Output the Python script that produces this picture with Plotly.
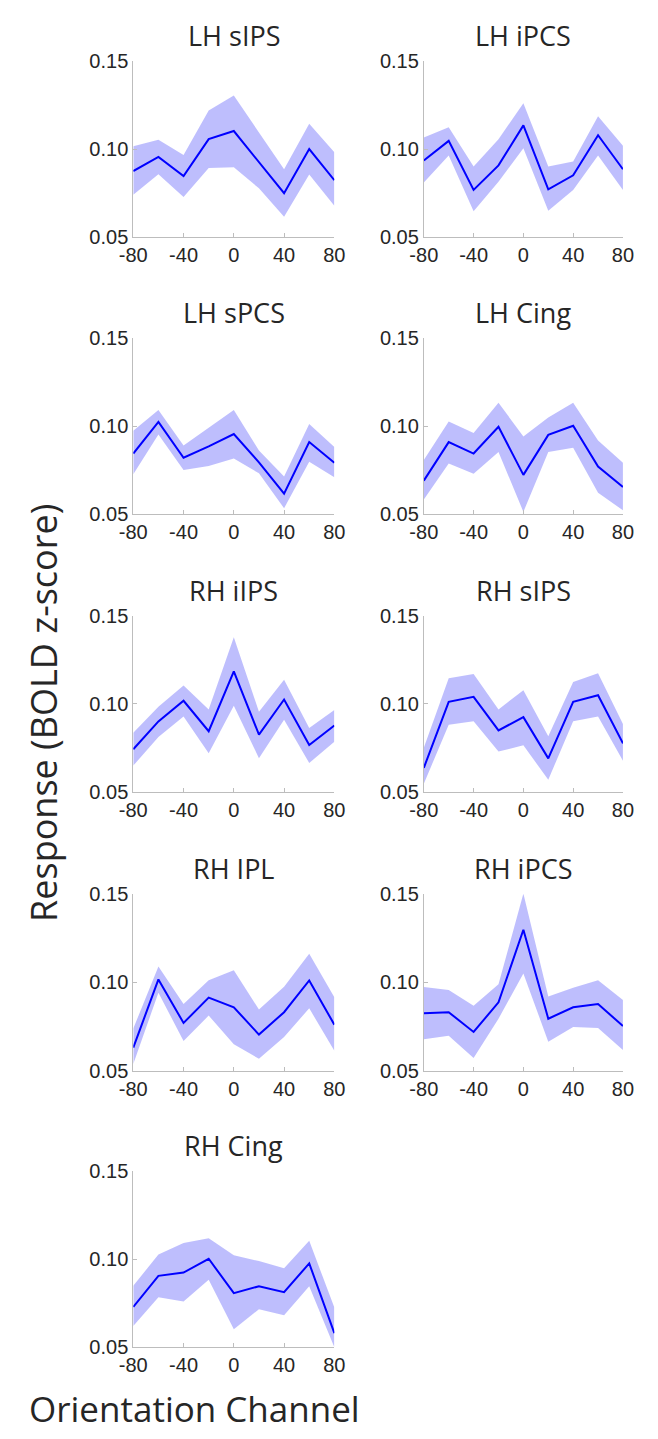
import plotly.graph_objects as go

W, H = 658, 1439

channels = [-80, -60, -40, -20, 0, 20, 40, 60, 80]
regions = ["LH sIPS", "LH iPCS", "LH sPCS", "LH Cing", "RH iIPS",
           "RH sIPS", "RH IPL", "RH iPCS", "RH Cing"]

mean_lh_sips = [0.0877, 0.0957, 0.0848, 0.1058, 0.1104, 0.0927, 0.0751, 0.1002, 0.0825]
upper_lh_sips = [0.1017, 0.1054, 0.0968, 0.1221, 0.1305, 0.1095, 0.0887, 0.1145, 0.0983]
lower_lh_sips = [0.0742, 0.0859, 0.0729, 0.0894, 0.0898, 0.0779, 0.0617, 0.0857, 0.0680]

mean_lh_ipcs = [0.0937, 0.1048, 0.0770, 0.0909, 0.1136, 0.0773, 0.0853, 0.1080, 0.0887]
upper_lh_ipcs = [0.1067, 0.1126, 0.0903, 0.1058, 0.1262, 0.0903, 0.0931, 0.1188, 0.1020]
lower_lh_ipcs = [0.0812, 0.0965, 0.0649, 0.0816, 0.1006, 0.0652, 0.0770, 0.0965, 0.0770]

mean_lh_spcs = [0.0844, 0.1024, 0.0820, 0.0885, 0.0955, 0.0794, 0.0617, 0.0909, 0.0792]
upper_lh_spcs = [0.0974, 0.1091, 0.0890, 0.0993, 0.1091, 0.0862, 0.0714, 0.1011, 0.0881]
lower_lh_spcs = [0.0727, 0.0952, 0.0751, 0.0773, 0.0816, 0.0732, 0.0533, 0.0797, 0.0710]

mean_lh_cing = [0.0690, 0.0909, 0.0844, 0.0996, 0.0723, 0.0950, 0.1002, 0.0770, 0.0654]
upper_lh_cing = [0.0807, 0.1026, 0.0961, 0.1132, 0.0941, 0.1048, 0.1132, 0.0918, 0.0792]
lower_lh_cing = [0.0584, 0.0788, 0.0729, 0.0853, 0.0513, 0.0853, 0.0877, 0.0621, 0.0522]

mean_rh_iips = [0.0742, 0.0900, 0.1017, 0.0844, 0.1184, 0.0825, 0.1024, 0.0766, 0.0877]
upper_rh_iips = [0.0835, 0.0983, 0.1104, 0.0968, 0.1377, 0.0955, 0.1136, 0.0862, 0.0965]
lower_rh_iips = [0.0649, 0.0812, 0.0928, 0.0719, 0.0989, 0.0691, 0.0909, 0.0664, 0.0784]

mean_rh_sips = [0.0636, 0.1011, 0.1039, 0.0849, 0.0924, 0.0690, 0.1011, 0.1048, 0.0775]
upper_rh_sips = [0.0751, 0.1145, 0.1169, 0.0968, 0.1076, 0.0816, 0.1123, 0.1173, 0.0885]
lower_rh_sips = [0.0546, 0.0881, 0.0900, 0.0729, 0.0764, 0.0569, 0.0900, 0.0928, 0.0677]

mean_rh_ipl = [0.0630, 0.1017, 0.0770, 0.0914, 0.0859, 0.0704, 0.0831, 0.1011, 0.0760]
upper_rh_ipl = [0.0738, 0.1091, 0.0877, 0.1013, 0.1069, 0.0846, 0.0976, 0.1162, 0.0916]
lower_rh_ipl = [0.0537, 0.0942, 0.0667, 0.0812, 0.0649, 0.0567, 0.0691, 0.0853, 0.0612]

mean_rh_ipcs = [0.0825, 0.0831, 0.0719, 0.0887, 0.1299, 0.0794, 0.0859, 0.0877, 0.0753]
upper_rh_ipcs = [0.0974, 0.0957, 0.0868, 0.0989, 0.1504, 0.0920, 0.0970, 0.1013, 0.0900]
lower_rh_ipcs = [0.0678, 0.0697, 0.0571, 0.0794, 0.1050, 0.0664, 0.0747, 0.0742, 0.0617]

mean_rh_cing = [0.0729, 0.0905, 0.0924, 0.1002, 0.0807, 0.0846, 0.0812, 0.0976, 0.0580]
upper_rh_cing = [0.0849, 0.1026, 0.1091, 0.1119, 0.1022, 0.0989, 0.0948, 0.1104, 0.0725]
lower_rh_cing = [0.0621, 0.0784, 0.0760, 0.0883, 0.0602, 0.0716, 0.0682, 0.0846, 0.0500]

means = [mean_lh_sips, mean_lh_ipcs, mean_lh_spcs, mean_lh_cing, mean_rh_iips,
         mean_rh_sips, mean_rh_ipl, mean_rh_ipcs, mean_rh_cing]
uppers = [upper_lh_sips, upper_lh_ipcs, upper_lh_spcs, upper_lh_cing, upper_rh_iips,
          upper_rh_sips, upper_rh_ipl, upper_rh_ipcs, upper_rh_cing]
lowers = [lower_lh_sips, lower_lh_ipcs, lower_lh_spcs, lower_lh_cing, lower_rh_iips,
          lower_rh_sips, lower_rh_ipl, lower_rh_ipcs, lower_rh_cing]

x_ticks = [-80, -40, 0, 40, 80]
y_ticks = [0.05, 0.10, 0.15]

# layout in pixels
col_x = [(124, 333), (426, 633)]
row_top = [51, 332, 614, 897, 1178]
panel_h = 179

AX_COLOR = "#bdbdbd"
TXT = "#262626"
TICK_FONT = dict(family="Liberation Sans, Arial", size=20, color=TXT)
TITLE_FONT = "Open Sans"

fig = go.Figure()
annotations = []
layout_axes = {}

for i, name in enumerate(regions):
    r, c = divmod(i, 2)
    x0, x1 = col_x[c]
    top = row_top[r]
    bot = top + panel_h
    xa = "x" if i == 0 else f"x{i+1}"
    ya = "y" if i == 0 else f"y{i+1}"
    xkey = "xaxis" if i == 0 else f"xaxis{i+1}"
    ykey = "yaxis" if i == 0 else f"yaxis{i+1}"

    band_x = channels + channels[::-1]
    band_y = uppers[i] + lowers[i][::-1]
    fig.add_trace(go.Scatter(x=band_x, y=band_y, fill="toself", mode="lines",
                             line=dict(width=0), fillcolor="rgba(120,120,250,0.48)",
                             xaxis=xa, yaxis=ya, showlegend=False, hoverinfo="skip"))
    fig.add_trace(go.Scatter(x=channels, y=means[i], mode="lines",
                             line=dict(color="#0000ff", width=2),
                             xaxis=xa, yaxis=ya, showlegend=False))

    layout_axes[xkey] = dict(domain=[x0 / W, x1 / W], anchor=ya, range=[-80, 80],
                             tickvals=x_ticks, ticktext=[str(v) for v in x_ticks],
                             showline=True, linecolor=AX_COLOR, linewidth=1,
                             ticks="inside", ticklen=4, tickcolor=AX_COLOR,
                             showgrid=False, zeroline=False, tickfont=TICK_FONT,
                             fixedrange=True)
    layout_axes[ykey] = dict(domain=[1 - bot / H, 1 - top / H], anchor=xa,
                             range=[0.05, 0.15], tickvals=y_ticks,
                             ticktext=[f"{v:.2f}" for v in y_ticks],
                             showline=True, linecolor=AX_COLOR, linewidth=1,
                             ticks="inside", ticklen=4, tickcolor=AX_COLOR,
                             showgrid=False, zeroline=False, tickfont=TICK_FONT,
                             fixedrange=True)
    annotations.append(dict(text=name, x=(x0 + x1) / 2 / W, y=1 - (top - 26) / H,
                            xref="paper", yref="paper", showarrow=False,
                            xanchor="center", yanchor="middle",
                            font=dict(family=TITLE_FONT, size=27, color=TXT)))

annotations.append(dict(text="Response (BOLD z-score)", x=30 / W, y=1 - 713 / H,
                        xref="paper", yref="paper", showarrow=False, textangle=-90,
                        xanchor="center", yanchor="middle",
                        font=dict(family=TITLE_FONT, size=36, color=TXT)))
annotations.append(dict(text="Orientation Channel", x=188 / W, y=1 - 1419 / H,
                        xref="paper", yref="paper", showarrow=False,
                        xanchor="center", yanchor="middle",
                        font=dict(family=TITLE_FONT, size=35, color=TXT)))

fig.update_layout(width=W, height=H, margin=dict(l=0, r=0, t=0, b=0),
                  paper_bgcolor="white", plot_bgcolor="white",
                  annotations=annotations, **layout_axes)

fig.write_html("out.html", config={"displayModeBar": False},
               post_script="document.body.style.margin='0';"
                           "document.body.style.overflow='hidden';")
